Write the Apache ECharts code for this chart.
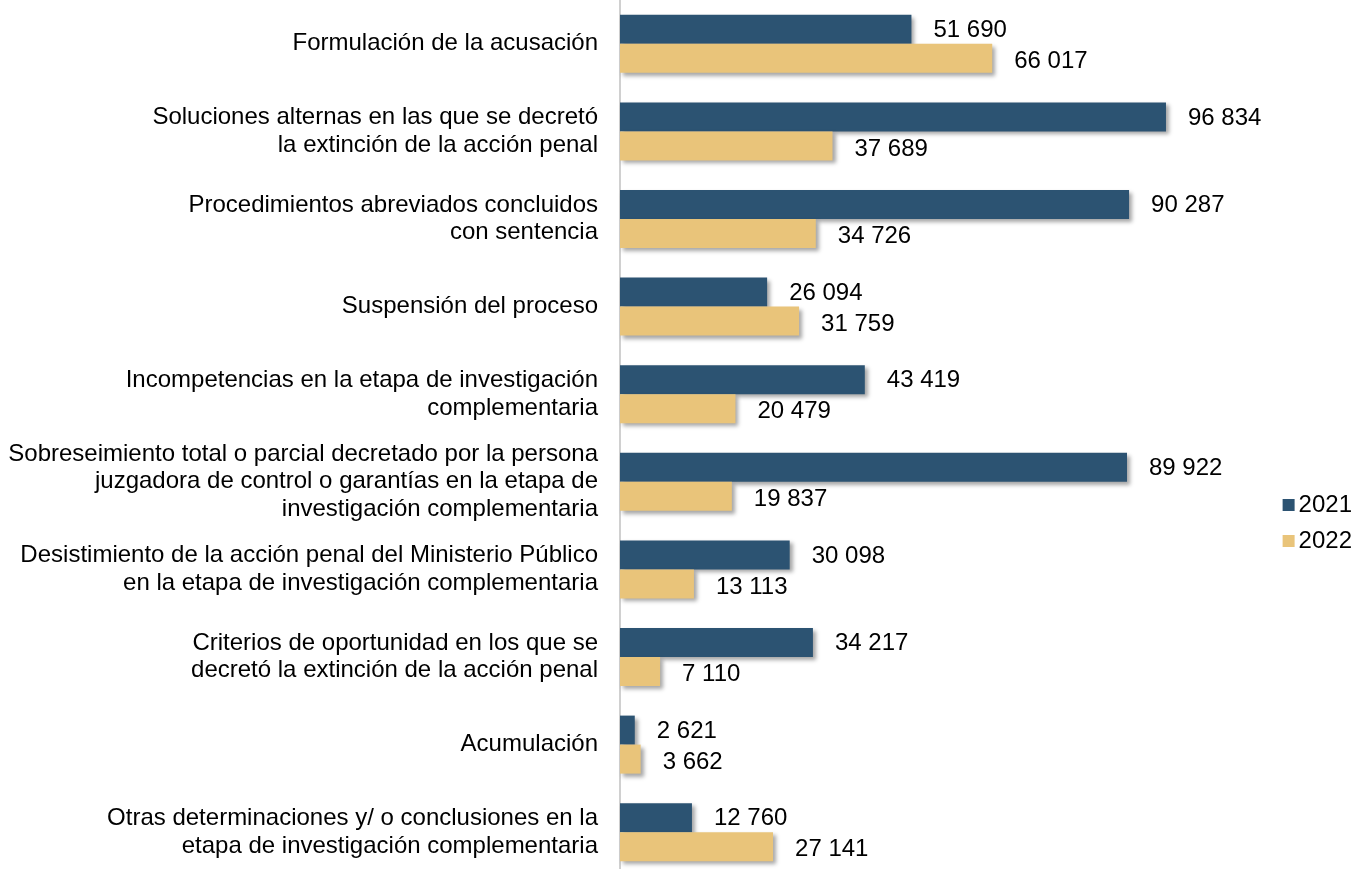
<!DOCTYPE html>
<html><head><meta charset="utf-8">
<script src="https://cdn.jsdelivr.net/npm/echarts@6/dist/echarts.min.js"></script>
<style>html,body{margin:0;padding:0;background:#fff}#c{width:1370px;height:869px}</style>
</head><body><div id="c"></div>
<script>
const categories = [
  "Formulación de la acusación",
  "Soluciones alternas en las que se decretó\nla extinción de la acción penal",
  "Procedimientos abreviados concluidos\ncon sentencia",
  "Suspensión del proceso",
  "Incompetencias en la etapa de investigación\ncomplementaria",
  "Sobreseimiento total o parcial decretado por la persona\njuzgadora de control o garantías en la etapa de\ninvestigación complementaria",
  "Desistimiento de la acción penal del Ministerio Público\nen la etapa de investigación complementaria",
  "Criterios de oportunidad en los que se\ndecretó la extinción de la acción penal",
  "Acumulación",
  "Otras determinaciones y/ o conclusiones en la\netapa de investigación complementaria"
];
const values2021 = [51690, 96834, 90287, 26094, 43419, 89922, 30098, 34217, 2621, 12760];
const values2022 = [66017, 37689, 34726, 31759, 20479, 19837, 13113, 7110, 3662, 27141];
const seriesNames = ["2021", "2022"];

const fmt = v => String(v).replace(/\B(?=(\d{3})+(?!\d))/g, ' ');
const FONT = 'Liberation Sans, Arial, sans-serif';
const shadow = {shadowColor:'rgba(0,0,0,0.35)', shadowBlur:4, shadowOffsetX:3, shadowOffsetY:3};
const chart = echarts.init(document.getElementById('c'));
chart.setOption({
  animation:false,
  grid:{left:620, top:0, width:676.6, height:876, containLabel:false, outerBoundsMode:'none'},
  legend:{
    orient:'vertical', right:13, top:488, itemWidth:12, itemHeight:12, itemGap:12,
    icon:'rect',
    textStyle:{fontFamily:FONT, fontSize:24, color:'#000', padding:[0,0,0,-1]},
    data:seriesNames
  },
  xAxis:{type:'value', min:0, max:120000, show:false},
  yAxis:{type:'category', inverse:true, data:categories,
    axisLine:{show:true, lineStyle:{color:'#d0d0d0', width:2}},
    axisTick:{show:false},
    axisLabel:{fontFamily:FONT, fontSize:24, color:'#000', align:'right', margin:22, lineHeight:27.5}
  },
  series:[
    {name:seriesNames[0], type:'bar', data:values2021, barWidth:29, barGap:'0%',
     itemStyle:Object.assign({color:'#2C5372'}, shadow),
     label:{show:true, position:'right', distance:22, fontFamily:FONT, fontSize:24, color:'#000', offset:[0,1], formatter:p=>fmt(p.value)}},
    {name:seriesNames[1], type:'bar', data:values2022, barWidth:29,
     itemStyle:Object.assign({color:'#E9C47A'}, shadow),
     label:{show:true, position:'right', distance:22, fontFamily:FONT, fontSize:24, color:'#000', offset:[0,3], formatter:p=>fmt(p.value)}}
  ]
});
</script></body></html>
